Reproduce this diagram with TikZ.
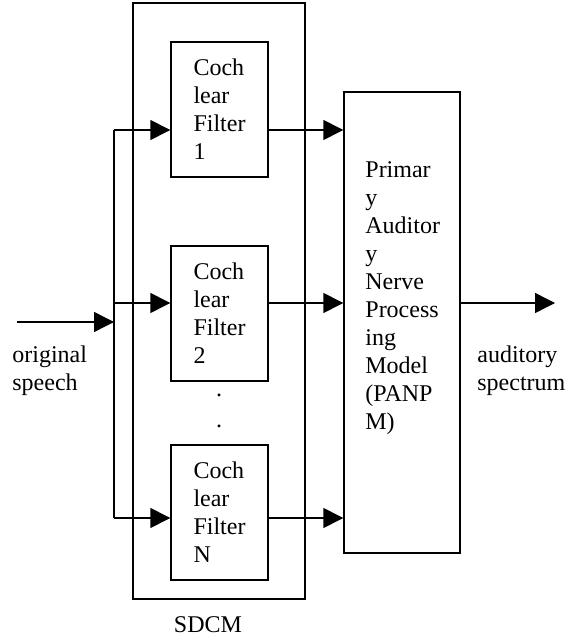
\documentclass[tikz,border=0pt]{standalone}
\usepackage{fontspec}
\setmainfont{Liberation Serif}
\usetikzlibrary{arrows.meta,positioning}
\tikzset{
  blockbox/.style={draw, line width=0.7pt, minimum width=48.5pt, minimum height=67.5pt,
    align=left, font=\fontsize{12}{14}\selectfont},
  plaintext/.style={inner sep=0pt, align=left, font=\fontsize{12}{14}\selectfont},
  sig/.style={line width=0.7pt, -{Triangle[length=10pt,width=10pt]}},
}
\begin{document}
\begin{tikzpicture}[x=0.5pt,y=-0.5pt]
    \useasboundingbox (0,0) rectangle (577,641);

      % SDCM frame
    \node[draw, line width=0.7pt, minimum width=86pt, minimum height=298pt] (sdcm) at (219,301) {};
    \node[plaintext] (sdcmlabel) at (208,625) {SDCM};

      % cochlear filters
    \node[blockbox] (f1) at (219.5,109.5) {Coch\\lear\\Filter\\1};
    \node[blockbox] (f2) at (219.5,313.5) {Coch\\lear\\Filter\\2};
    \node[blockbox] (fN) at (219.5,512.5) {Coch\\lear\\Filter\\N};
    \node[plaintext] (dot1) at (219,395) {.};
    \node[plaintext] (dot2) at (219,426) {.};

      % PANPM
    \node[draw, line width=0.7pt, minimum width=58pt, minimum height=230.5pt] (panpm) at (402,322.5) {};
    \node[plaintext, anchor=west] (panpmtext) at (365,298)
      {Primar\\y\\Auditor\\y\\Nerve\\Process\\ing\\Model\\(PANP\\M)};

      % input and branch
    \coordinate (in) at (17,322);
    \coordinate (split) at (114,322);
    \coordinate (b1) at (114,130);
    \coordinate (b2) at (114,303);
    \coordinate (bN) at (114,518);
    \node[plaintext, anchor=west] (speech) at (12,371) {original\\speech};
    \draw[sig] (in) -- (split);
    \draw[line width=0.7pt] (b1) -- (bN);
    \draw[sig] (b1) -- (b1 -| f1.west);
    \draw[sig] (b2) -- (b2 -| f2.west);
    \draw[sig] (bN) -- (bN -| fN.west);

      % filter outputs
    \draw[sig] (f1.east |- b1) -- (panpm.west |- b1);
    \draw[sig] (f2.east |- b2) -- (panpm.west |- b2);
    \draw[sig] (fN.east |- bN) -- (panpm.west |- bN);

      % output
    \coordinate (out) at (555,303);
    \draw[sig] (panpm.east |- b2) -- (out);
    \node[plaintext, anchor=west] (spectrum) at (477,371) {auditory\\spectrum};
\end{tikzpicture}
\end{document}
